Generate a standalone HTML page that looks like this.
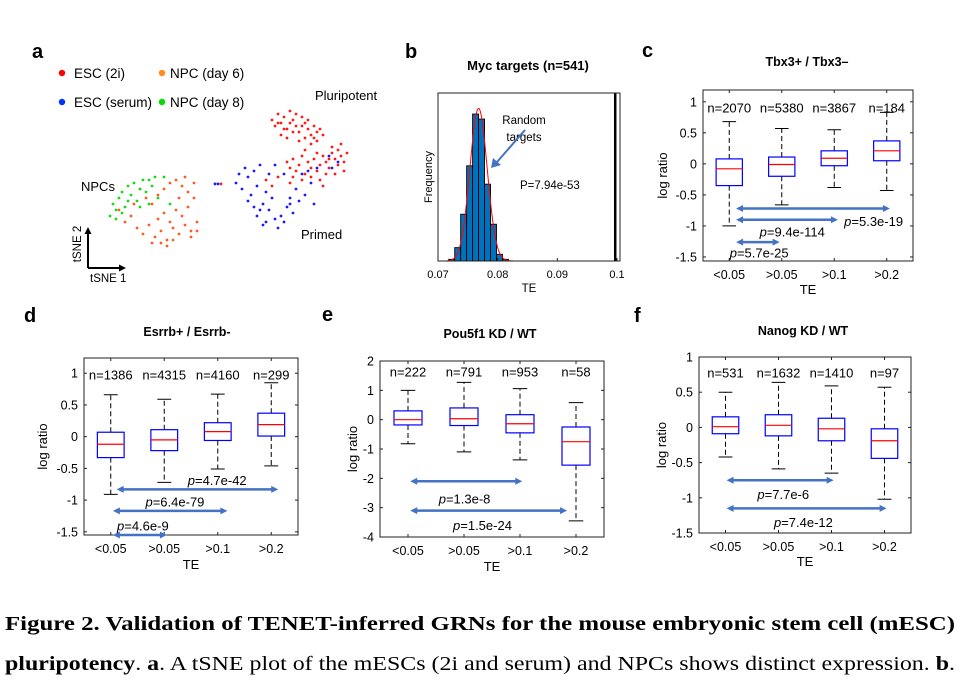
<!DOCTYPE html>
<html><head><meta charset="utf-8"><style>
html,body{margin:0;padding:0;background:#fff;}
svg{display:block;font-family:"Liberation Sans",Arial,sans-serif;}
</style></head><body>
<svg id="fig" width="965" height="681" viewBox="0 0 965 681">
<g font-family="'Liberation Serif',serif">
<text x="5" y="630" font-size="20" font-weight="bold" textLength="950" lengthAdjust="spacingAndGlyphs">Figure 2. Validation of TENET-inferred GRNs for the mouse embryonic stem cell (mESC)</text>
<text x="5" y="670" font-size="20" textLength="950" lengthAdjust="spacingAndGlyphs"><tspan font-weight="bold">pluripotency</tspan>. <tspan font-weight="bold">a</tspan>. A tSNE plot of the mESCs (2i and serum) and NPCs shows distinct expression. <tspan font-weight="bold">b</tspan>.</text>
</g>
</svg>
<script>
// ---------- panel a data (tSNE coordinates) ----------
const esc2iPoints=[[14,20],[15,18],[16,22],[17,19],[18,21],[19,17],[20,23],[21,20],[22,18],[23,16],[24,21],[25,19],[26,17],[27,15],[28,18],[29,16],[30,17],[31,15],[17,15],[19,14],[21,16],[23,13],[25,14],[27,12],[16,19],[20,19],[22,22],[24,18],[26,20],[28,14],[18,17],[29,13],
[19,6],[20,4],[21,7],[22,3],[23,5],[24,8],[25,2],[26,6],[27,4],[28,7],[29,3],[30,5],[31,8],[32,6],[33,4],[34,9],[35,7],[36,5],[37,8],[38,6],[39,9],[36,10],[34,11],[32,2],[30,0],[27,1],[24,0],[21,1],[38,3],[35,2],[33,7],[29,9],[31,-2],[20,-1],[37,12],[25,10],[12,0],[14,-2],[16,1],[-3,-1.3]];
const escSerumPoints=[[2,-1],[3,2],[4,-3],[5,4],[6,1],[7,-5],[8,3],[9,-2],[10,5],[11,-8],[12,-4],[13,2],[9,-12],[11,-15],[13,-10],[15,-13],[16,-16],[17,-12],[18,-14],[19,-9],[20,-6],[21,-11],[22,-3],[23,-7],[24,2],[25,-5],[26,3],[27,-1],[28,-8],[29,4],[10,-10],[14,-6],[6,-7],[8,-9],[15,5],[18,2],[33,8],[36,6],[34,4],[-5,-1.3],[-4,-1.3],[20,-8],[12,-14]];
const npcDay6Points=[[-37,-10],[-35,-14],[-33,-12],[-31,-16],[-29,-18],[-27,-15],[-25,-19],[-23,-17],[-21,-20],[-19,-16],[-17,-18],[-15,-15],[-13,-17],[-11,-14],[-24,-13],[-22,-11],[-20,-14],[-18,-10],[-16,-12],[-14,-9],[-26,-8],[-24,-5],[-22,-3],[-20,-1],[-18,0],[-16,-2],[-14,-4],[-12,-1],[-12,-6],[-15,1],[-17,-6],[-28,-6],[-30,-3],[-32,-8],[-26,-21],[-21,-22],[-19,-20],[-23,-21],[-13,-19],[-11,-17]];
const npcDay8Points=[[-40,-12],[-39,-8],[-38,-10],[-37,-6],[-36,-4],[-35,-9],[-34,-2],[-33,-5],[-32,-1],[-31,-7],[-30,-3],[-29,0],[-28,-4],[-27,-8],[-26,-2],[-25,1],[-34,-7],[-30,-9],[-38,-13],[-27,0],[-24,-6],[-22,1],[-20,-8],[-36,-11]];

// ---------- panel b data ----------
const histBinStart=[0.0718,0.0728,0.0738,0.0748,0.0758,0.0768,0.0778,0.0788,0.0798,0.0808];
const histCounts=[1,8,28,57,88,85,46,22,4,1];
const fitParams=[0.0768,0.00145,91.4]; // mean, sd, peak
const observedTE=[0.0997];
const histXTicks=[0.07,0.08,0.09,0.1];
const histXTickLabels=['0.07','0.08','0.09','0.1'];

// ---------- panel c data ----------
const cCategories=['<0.05','>0.05','>0.1','>0.2'];
const cCounts=['n=2070','n=5380','n=3867','n=184'];
const cWhiskerHigh=[0.68,0.57,0.55,0.83];
const cQ3=[0.08,0.11,0.21,0.37];
const cMedian=[-0.08,-0.01,0.09,0.21];
const cQ1=[-0.35,-0.2,-0.03,0.05];
const cWhiskerLow=[-1.0,-0.66,-0.38,-0.43];
const cArrowFrom=[1.13,1.13,1.13];
const cArrowTo=[4.06,3.07,1.96];
const cArrowY=[-0.72,-0.9,-1.26];
const cPValues=['5.3e-19','9.4e-114','5.7e-25'];

// ---------- panel d data ----------
const dCategories=['<0.05','>0.05','>0.1','>0.2'];
const dCounts=['n=1386','n=4315','n=4160','n=299'];
const dWhiskerHigh=[0.66,0.59,0.67,0.85];
const dQ3=[0.07,0.11,0.22,0.37];
const dMedian=[-0.12,-0.05,0.08,0.19];
const dQ1=[-0.33,-0.22,-0.06,0.01];
const dWhiskerLow=[-0.91,-0.72,-0.51,-0.46];
const dArrowFrom=[1.11,1.04,1.04];
const dArrowTo=[4.13,3.18,2.05];
const dArrowY=[-0.83,-1.17,-1.55];
const dPValues=['4.7e-42','6.4e-79','4.6e-9'];

// ---------- panel e data ----------
const eCategories=['<0.05','>0.05','>0.1','>0.2'];
const eCounts=['n=222','n=791','n=953','n=58'];
const eWhiskerHigh=[1.0,1.27,1.06,0.58];
const eQ3=[0.3,0.4,0.17,-0.25];
const eMedian=[0.0,0.03,-0.14,-0.75];
const eQ1=[-0.18,-0.2,-0.45,-1.55];
const eWhiskerLow=[-0.82,-1.1,-1.37,-3.45];
const eArrowFrom=[1.04,1.04];
const eArrowTo=[3.04,3.84];
const eArrowY=[-2.1,-3.1];
const ePValues=['1.3e-8','1.5e-24'];

// ---------- panel f data ----------
const fCategories=['<0.05','>0.05','>0.1','>0.2'];
const fCounts=['n=531','n=1632','n=1410','n=97'];
const fWhiskerHigh=[0.5,0.64,0.59,0.57];
const fQ3=[0.15,0.18,0.13,-0.02];
const fMedian=[0.01,0.03,-0.02,-0.19];
const fQ1=[-0.09,-0.12,-0.19,-0.44];
const fWhiskerLow=[-0.42,-0.59,-0.65,-1.02];
const fArrowFrom=[1.02,1.02];
const fArrowTo=[3.04,4.04];
const fArrowY=[-0.75,-1.15];
const fPValues=['7.7e-6','7.4e-12'];

const NS='http://www.w3.org/2000/svg';
const svg=document.getElementById('fig');
function mk(tag,attrs,parent){const e=document.createElementNS(NS,tag);for(const k in attrs)e.setAttribute(k,attrs[k]);(parent||svg).appendChild(e);return e;}
function txt(str,attrs,parent){const e=mk('text',attrs,parent);e.textContent=str;return e;}
function lin(d0,d1,r0,r1){return v=>r0+(v-d0)/(d1-d0)*(r1-r0);}

// ===== panel letters =====
[['a',32,58],['b',405,58],['c',642,57],['d',24,322],['e',322,321],['f',634,322]].forEach(p=>{
  const t=txt(p[0],{x:p[1],y:p[2],'font-size':20,'font-weight':'bold'});
  
  
});

// ===== panel a =====
(function(){
  const g=mk('g',{});
  
  
  const xs=lin(-40,40,110,350), ys=lin(-40,40,300,60);
  const leg=[['#ff0000','ESC (2i)',62,74],['#ff8c1a','NPC (day 6)',162,170],['#0033ff','ESC (serum)',62,74],['#00dd00','NPC (day 8)',162,170]];
  leg.forEach((l,i)=>{
    const y=i<2?73:102;
    const c=mk('circle',{cx:l[2],cy:y,r:3.2,fill:l[0]},g);
    
    
    const t=txt(l[1],{x:l[3],y:y+5,'font-size':13.5},g);
    
    
  });
  const sets=[[npcDay6Points,'#ff5a1f'],[npcDay8Points,'#11dd11'],[escSerumPoints,'#1a1aff'],[esc2iPoints,'#ff1a1a']];
  sets.forEach(s=>{s[0].forEach(p=>{
    const c=mk('circle',{cx:xs(p[0]),cy:ys(p[1]),r:1.4,fill:s[1]},g);
    
    
  });});
  [['Pluripotent',315,100],['NPCs',81,191],['Primed',301,239]].forEach(l=>{
    const t=txt(l[0],{x:l[1],y:l[2],'font-size':13},g);
    
    
  });
  const ax=mk('path',{d:'M88,268 L88,232 M88,268 L122,268',stroke:'#000','stroke-width':2,fill:'none'},g);
  
  
  mk('path',{d:'M84.5,234 L88,227 L91.5,234 Z M119,264.5 L126,268 L119,271.5 Z',fill:'#000'},g);
  const t1=txt('tSNE 1',{x:90,y:282,'font-size':11.5},g);
  
  
  const t2=txt('tSNE 2',{x:0,y:0,'font-size':11.5,'text-anchor':'middle',transform:'translate(81,244) rotate(-90)'},g);
  
  
})();

// ===== panel b =====
(function(){
  const g=mk('g',{});
  
  
  const B={l:438,r:620,t:93,b:261};
  const xs=lin(0.07,0.1005,B.l,B.r), ys=lin(0,100.6,B.b,B.t);
  const tt=txt('Myc targets (n=541)',{x:528,y:70,'font-size':13,'font-weight':'bold','text-anchor':'middle'},g);
  
  
  histCounts.forEach((c,i)=>{
    const x0=xs(histBinStart[i]),x1=xs(histBinStart[i]+0.001);
    const r=mk('rect',{x:x0,y:ys(c),width:x1-x0,height:ys(0)-ys(c),fill:'#0072bd',stroke:'#000','stroke-width':0.9},g);
    
    
  });
  let d='';
  for(let i=0;i<=120;i++){const v=0.0715+i*0.0001;const f=fitParams[2]*Math.exp(-0.5*Math.pow((v-fitParams[0])/fitParams[1],2));d+=(i?'L':'M')+xs(v).toFixed(1)+','+ys(f).toFixed(1);}
  const fit=mk('path',{d:d,stroke:'#ff0000','stroke-width':1,fill:'none'},g);
  
  
  const ob=mk('line',{x1:xs(observedTE[0]),x2:xs(observedTE[0]),y1:B.t,y2:B.b,stroke:'#000','stroke-width':2.5},g);
  
  
  const box=mk('rect',{x:B.l,y:B.t,width:B.r-B.l,height:B.b-B.t,fill:'none',stroke:'#222','stroke-width':1},g);
  
  
  histXTicks.forEach((v,i)=>{
    mk('line',{x1:xs(v),x2:xs(v),y1:B.b,y2:B.b-3,stroke:'#222'},g);
    const t=txt(histXTickLabels[i],{x:xs(v),y:278,'font-size':11,'text-anchor':'middle'},g);
    
    
  });
  const xt=txt('TE',{x:529,y:292,'font-size':11.5,'text-anchor':'middle'},g);
  
  
  const yt=txt('Frequency',{x:0,y:0,'font-size':11,'text-anchor':'middle',transform:'translate(432,177) rotate(-90)'},g);
  
  
  const r1=txt('Random',{x:524,y:124,'font-size':11.5,'text-anchor':'middle'},g);
  
  
  txt('targets',{x:524,y:141,'font-size':11.5,'text-anchor':'middle'},g);
  const ar=mk('path',{d:'M525,130 L497,162',stroke:'#4472c4','stroke-width':2,fill:'none'},g);
  
  
  mk('path',{d:'M491,168 L493,158 L501,165 Z',fill:'#4472c4'},g);
  const pv=txt('P=7.94e-53',{x:520,y:189,'font-size':11.5},g);
  
  
})();

// ===== box plot panels =====
function boxPanel(cfg){
  const g=mk('g',{});
  
  
  const B=cfg.box;
  const xs=lin(0.5,4.5,B.l,B.r), ys=lin(cfg.ymin,cfg.ymax,B.b,B.t);
  const tt=txt(cfg.title,{x:cfg.titleX,y:cfg.titleY,'font-size':12.5,'font-weight':'bold','text-anchor':'middle'},g);
  
  
  const fr=mk('rect',{x:B.l,y:B.t,width:B.r-B.l,height:B.b-B.t,fill:'none',stroke:'#222','stroke-width':1},g);
  
  
  cfg.yticks.forEach(v=>{
    const y=ys(v);
    mk('line',{x1:B.l,x2:B.l+3,y1:y,y2:y,stroke:'#222'},g);
    mk('line',{x1:B.r,x2:B.r-3,y1:y,y2:y,stroke:'#222'},g);
    const t=txt(String(v),{x:B.l-6,y:y+4.5,'font-size':12.5,'text-anchor':'end'},g);
    
    
  });
  cfg.cats.forEach((c,i)=>{
    const x=xs(i+1);
    mk('line',{x1:x,x2:x,y1:B.b,y2:B.b-3,stroke:'#222'},g);
    mk('line',{x1:x,x2:x,y1:B.t,y2:B.t+3,stroke:'#222'},g);
    const t=txt(c,{x:x,y:cfg.tickY,'font-size':12.5,'text-anchor':'middle'},g);
    
    
    const hw=xs(1.25)-xs(1), cw=xs(1.13)-xs(1);
    const wh=mk('path',{d:`M${x},${ys(cfg.q3[i])} L${x},${ys(cfg.hi[i])} M${x},${ys(cfg.q1[i])} L${x},${ys(cfg.lo[i])}`,stroke:'#000','stroke-width':1,'stroke-dasharray':'5,3',fill:'none'},g);
    
    
    mk('path',{d:`M${x-cw},${ys(cfg.hi[i])} L${x+cw},${ys(cfg.hi[i])} M${x-cw},${ys(cfg.lo[i])} L${x+cw},${ys(cfg.lo[i])}`,stroke:'#000','stroke-width':1},g);
    const bx=mk('rect',{x:x-hw,y:ys(cfg.q3[i]),width:2*hw,height:ys(cfg.q1[i])-ys(cfg.q3[i]),fill:'none',stroke:'#0000ff','stroke-width':1.2},g);
    
    
    const md=mk('line',{x1:x-hw,x2:x+hw,y1:ys(cfg.med[i]),y2:ys(cfg.med[i]),stroke:'#ff0000','stroke-width':1.2},g);
    
    
    const n=txt(cfg.counts[i],{x:x,y:ys(cfg.nY)+4.5,'font-size':13,'text-anchor':'middle'},g);
    
    
  });
  cfg.af.forEach((f,i)=>{
    const x0=xs(f),x1=xs(cfg.at[i]),y=ys(cfg.ay[i]);
    const a=mk('line',{x1:x0+5,x2:x1-5,y1:y,y2:y,stroke:'#4472c4','stroke-width':2.5},g);
    
    
    mk('path',{d:`M${x0},${y} L${x0+7},${y-3.5} L${x0+7},${y+3.5} Z M${x1},${y} L${x1-7},${y-3.5} L${x1-7},${y+3.5} Z`,fill:'#4472c4'},g);
    const L=cfg.labels[i];
    const t=txt('',{x:xs(L[0]),y:ys(L[1])+4.5,'font-size':13,'text-anchor':'middle'},g);
    
    
    const s1=mk('tspan',{'font-style':'italic'},t); s1.textContent='p';
    const s2=mk('tspan',{},t); s2.textContent='='+cfg.pv[i];
  });
  const xt=txt('TE',{x:(B.l+B.r)/2,y:cfg.teY,'font-size':13,'text-anchor':'middle'},g);
  
  
  const yt=txt('log ratio',{x:0,y:0,'font-size':13,'text-anchor':'middle',transform:`translate(${cfg.ylabX},${(B.t+B.b)/2}) rotate(-90)`},g);
  
  
}
const yt15=[-1.5,-1,-0.5,0,0.5,1];
boxPanel({name:'tbx3-boxplot-panel',box:{l:703,r:913,t:90,b:261},ymin:-1.565,ymax:1.19,yticks:yt15,title:'Tbx3+ / Tbx3–',titleX:807,titleY:66,tickY:279,teY:294,ylabX:667,nY:0.9,
  cats:cCategories,counts:cCounts,hi:cWhiskerHigh,q3:cQ3,med:cMedian,q1:cQ1,lo:cWhiskerLow,af:cArrowFrom,at:cArrowTo,ay:cArrowY,pv:cPValues,labels:[[3.75,-0.93],[2.2,-1.1],[1.57,-1.44]]});
boxPanel({name:'esrrb-boxplot-panel',box:{l:84,r:298,t:358,b:535},ymin:-1.55,ymax:1.24,yticks:yt15,title:'Esrrb+ / Esrrb-',titleX:187,titleY:336,tickY:553,teY:569,ylabX:47,nY:0.97,
  cats:dCategories,counts:dCounts,hi:dWhiskerHigh,q3:dQ3,med:dMedian,q1:dQ1,lo:dWhiskerLow,af:dArrowFrom,at:dArrowTo,ay:dArrowY,pv:dPValues,labels:[[2.99,-0.69],[2.2,-1.03],[1.6,-1.41]]});
boxPanel({name:'pou5f1-boxplot-panel',box:{l:380,r:604,t:361,b:537},ymin:-4,ymax:2,yticks:[-4,-3,-2,-1,0,1,2],title:'Pou5f1 KD / WT',titleX:490,titleY:338,tickY:555,teY:571,ylabX:357,nY:1.62,
  cats:eCategories,counts:eCounts,hi:eWhiskerHigh,q3:eQ3,med:eMedian,q1:eQ1,lo:eWhiskerLow,af:eArrowFrom,at:eArrowTo,ay:eArrowY,pv:ePValues,labels:[[2.01,-2.7],[2.33,-3.6]]});
boxPanel({name:'nanog-boxplot-panel',box:{l:699,r:911,t:357,b:533},ymin:-1.5,ymax:1,yticks:yt15,title:'Nanog KD / WT',titleX:803,titleY:335,tickY:551,teY:566,ylabX:666,nY:0.77,
  cats:fCategories,counts:fCounts,hi:fWhiskerHigh,q3:fQ3,med:fMedian,q1:fQ1,lo:fWhiskerLow,af:fArrowFrom,at:fArrowTo,ay:fArrowY,pv:fPValues,labels:[[2.09,-0.95],[2.47,-1.35]]});
</script>
</body></html>
